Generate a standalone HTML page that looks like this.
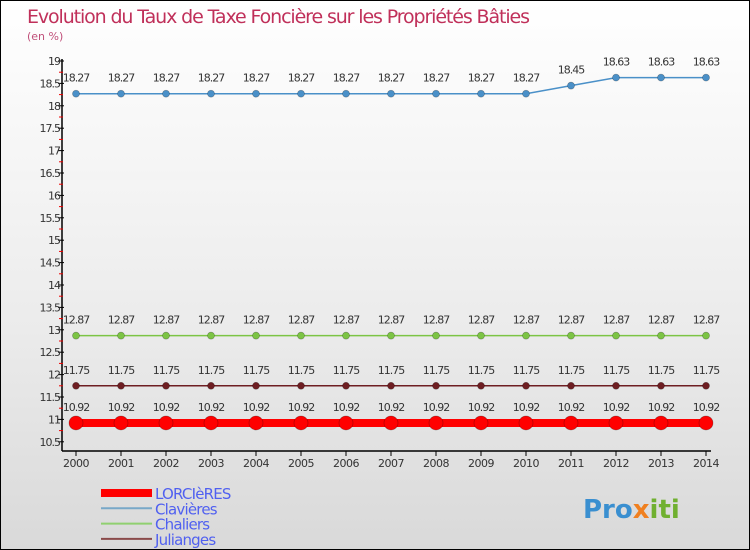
<!DOCTYPE html>
<html><head><meta charset="utf-8"><style>
body{margin:0}
#c{width:750px;height:550px;position:relative;box-sizing:border-box;border:1px solid #000;background:linear-gradient(#fff,#fafafa 15%,#ebebeb 60%,#d9d9d9);font-family:"DejaVu Sans","Liberation Sans",sans-serif;overflow:hidden}
</style></head><body>
<div id="c">
<svg id="s" width="748" height="548" style="position:absolute;left:0;top:0">
<text x="26" y="22" font-size="19" fill="#c0305a" font-family="DejaVu Sans" textLength="503">Evolution du Taux de Taxe Foncière sur les Propriétés Bâties</text>
<text x="26" y="39" font-size="11" fill="#c0507a">(en %)</text>
<g id="axes"></g><g id="series"></g><g id="legend"></g>
<text x="582" y="517" font-size="26" font-weight="bold" fill="#3a8fd0">Pro<tspan fill="#f08020">x</tspan><tspan fill="#70b030">iti</tspan></text>
</svg></div>
<script>
const years=[2000,2001,2002,2003,2004,2005,2006,2007,2008,2009,2010,2011,2012,2013,2014];
const lorcieres=[10.92,10.92,10.92,10.92,10.92,10.92,10.92,10.92,10.92,10.92,10.92,10.92,10.92,10.92,10.92];
const clavieres=[18.27,18.27,18.27,18.27,18.27,18.27,18.27,18.27,18.27,18.27,18.27,18.45,18.63,18.63,18.63];
const chaliers=[12.87,12.87,12.87,12.87,12.87,12.87,12.87,12.87,12.87,12.87,12.87,12.87,12.87,12.87,12.87];
const julianges=[11.75,11.75,11.75,11.75,11.75,11.75,11.75,11.75,11.75,11.75,11.75,11.75,11.75,11.75,11.75];
const yTicks=[10.5,11,11.5,12,12.5,13,13.5,14,14.5,15,15.5,16,16.5,17,17.5,18,18.5,19];
const NS="http://www.w3.org/2000/svg";
const X=i=>75+i*45, Y=v=>60+(19-v)*44.8;
function mk(t,a,p){const e=document.createElementNS(NS,t);for(const k in a)e.setAttribute(k,a[k]);p.appendChild(e);return e;}
const ax=document.getElementById('axes');
let l=mk('line',{x1:61,y1:58,x2:61,y2:450,stroke:'#000','stroke-width':1.5},ax);

l=mk('line',{x1:61,y1:450,x2:710,y2:450,stroke:'#000','stroke-width':1.5},ax);

yTicks.forEach(v=>{mk('line',{x1:57,y1:Y(v),x2:63,y2:Y(v),stroke:'#000'},ax);
 if(v<19)mk('line',{x1:58,y1:Y(v+0.25),x2:62,y2:Y(v+0.25),stroke:'#e00'},ax);
 const t=mk('text',{x:59,y:Y(v)+4,'font-size':11,'text-anchor':'end',fill:'#333','letter-spacing':'-1'},ax);t.textContent=v;
 });
years.forEach((y,i)=>{mk('line',{x1:X(i),y1:450,x2:X(i),y2:455,stroke:'#000'},ax);
 const t=mk('text',{x:X(i),y:466,'font-size':11,'text-anchor':'middle',fill:'#333','letter-spacing':'-0.5'},ax);t.textContent=y;
 });
const sg=document.getElementById('series');
function series(vals,col,w,r,name){const g=mk('g',{},sg);
 mk('polyline',{points:vals.map((v,i)=>X(i)+','+Y(v)).join(' '),fill:'none',stroke:col,'stroke-width':w},g);
 vals.forEach((v,i)=>{const c=mk('circle',{cx:X(i),cy:Y(v),r:r,fill:col,stroke:'rgba(0,0,0,0.3)','stroke-width':0.7},g);
  
  const t=mk('text',{x:X(i),y:Y(v)-12,'font-size':11,'text-anchor':'middle',fill:'#333','letter-spacing':'-1'},g);t.textContent=v;
  });}
series(clavieres,'#4a90c8',1.5,3.5,'clavieres');
series(chaliers,'#7cc444',1.5,3.5,'chaliers');
series(julianges,'#6e1e22',1.5,3.5,'julianges');
series(lorcieres,'#ff0000',8,7,'lorcieres');
const lg=document.getElementById('legend');
[['LORCIèRES','#ff0000',8],['Clavières','#78a8c8',2],['Chaliers','#90d070',2],['Julianges','#8a4a4a',2]].forEach((d,i)=>{
 const g=mk('g',{},lg);
 const y=492+i*15.3;mk('line',{x1:100,y1:y,x2:151,y2:y,stroke:d[1],'stroke-width':d[2]},g);
 const t=mk('text',{x:154,y:y+6,'font-size':15,fill:'#5060f0','letter-spacing':'-0.8'},g);t.textContent=d[0];});
</script></body></html>
